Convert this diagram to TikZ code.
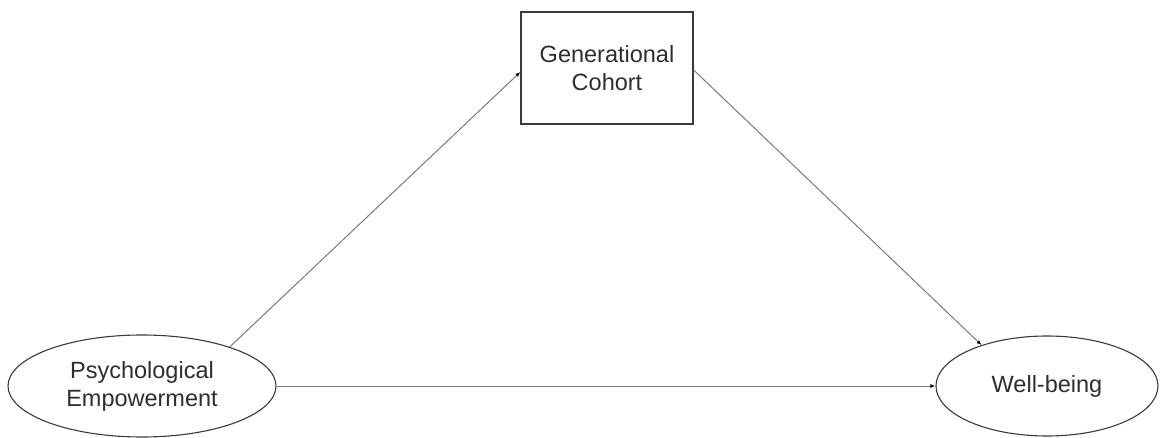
\documentclass[tikz,border=0pt]{standalone}
\usepackage{fontspec}
\setmainfont{Liberation Sans}
\usetikzlibrary{shapes.geometric,arrows.meta,calc}
\definecolor{inkText}{HTML}{2E2E2E}
\definecolor{inkLine}{HTML}{7A7A7A}
\definecolor{inkEdge}{HTML}{3A3A3A}
\begin{document}
\begin{tikzpicture}[x=1pt,y=-1pt,
  every node/.style={font=\fontsize{23.5}{28}\selectfont, text=inkText, align=center},
  construct/.style={ellipse, draw=inkEdge, line width=1.1pt, inner sep=0pt},
  groupbox/.style={rectangle, draw=inkEdge, line width=1.3pt, inner sep=0pt,
    minimum width=172pt, minimum height=112pt},
  path/.style={draw=inkLine, line width=1pt,
    -{Latex[length=5pt,width=4pt,fill=black,color=black]}}]
\useasboundingbox (0,0) rectangle (1161,438);

\node[groupbox] (gc) at (607,68) {Generational\\Cohort};
\node[construct, minimum width=268pt, minimum height=102pt] (pe) at (142,386)
  {Psychological\\Empowerment};
\node[construct, minimum width=222pt, minimum height=100pt] (wb) at (1047,386)
  {Well-being};

\draw[path] (pe.east) -- (wb.west);
\draw[path] (pe.24) -- ($(gc.west)+(0,4)$);
\draw[path] ($(gc.east)+(0,2)$) -- (wb.148);
\end{tikzpicture}
\end{document}
